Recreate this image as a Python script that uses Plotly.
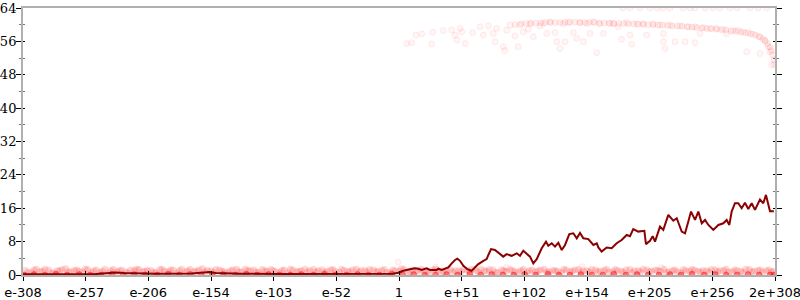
import plotly.graph_objects as go

# ---- tick labels (x axis is magnitude exponent, linear positions) ----
x_tick_vals = [-308, -256.7, -205.3, -154, -102.7, -51.3, 0, 51.3, 102.7, 154, 205.3, 256.7, 308]
x_tick_text = ["e-308", "e-257", "e-206", "e-154", "e-103", "e-52", "1",
               "e+51", "e+102", "e+154", "e+205", "e+256", "2e+308"]
y_tick_vals = [0, 8, 16, 24, 32, 40, 48, 56, 64]

# ---- low scatter band ----
band_x = [-306, -301, -297, -292, -287, -283, -278, -273, -269, -264,
          -259, -255, -250, -245, -241, -236, -231, -227, -222, -217,
          -213, -208, -203, -199, -194, -189, -185, -180, -175, -171,
          -166, -161, -157, -152, -147, -143, -138, -133, -129, -124,
          -119, -115, -110, -105, -101, -96, -91, -87, -82, -77,
          -73, -68, -63, -59, -54, -49, -45, -40, -35, -31,
          -26, -21, -17, -12, -7, -3, 2, 7, 11, 16,
          21, 25, 30, 35, 39, 44, 49, 53, 58, 63,
          67, 72, 77, 81, 86, 91, 95, 100, 105, 109,
          114, 119, 123, 128, 133, 137, 142, 147, 151, 156,
          161, 165, 170, 175, 179, 184, 189, 193, 198, 203,
          207, 212, 217, 221, 226, 231, 235, 240, 245, 249,
          254, 259, 263, 268, 273, 277, 282, 287, 291, 296,
          301, 305]
band_y = [1.1, 0.6, 1.4, 0.9, 1.2, 0.5, 1.0, 1.5, 0.8, 1.2,
          0.7, 1.3, 1.0, 0.6, 1.4, 1.1, 0.8, 1.2, 0.5, 1.0,
          1.3, 0.9, 1.1, 0.6, 1.4, 0.8, 1.2, 1.0, 0.7, 1.3,
          0.9, 1.5, 1.1, 0.6, 1.2, 0.8, 1.0, 1.4, 0.7, 1.1,
          1.2, 0.6, 1.0, 1.3, 0.8, 1.1, 0.5, 1.2, 0.9, 1.4,
          1.0, 0.7, 1.2, 0.9, 1.3, 0.6, 1.1, 0.8, 1.4, 1.0,
          0.7, 1.2, 0.9, 1.3, 0.6, 1.0, 1.5, 0.8, 1.2, 0.9,
          1.1, 0.6, 1.4, 0.9, 1.2, 0.7, 1.0, 1.3, 0.8, 1.1,
          1.4, 0.9, 1.2, 0.6, 1.0, 1.3, 0.8, 1.1, 0.7, 1.2,
          1.0, 1.4, 0.8, 1.1, 0.6, 1.2, 0.9, 1.3, 1.0, 0.7,
          1.2, 0.9, 1.4, 0.8, 1.1, 0.6, 1.3, 1.0, 0.7, 1.2,
          0.9, 1.1, 1.4, 0.8, 1.2, 0.6, 1.0, 1.3, 0.9, 1.1,
          0.7, 1.2, 1.0, 1.4, 0.8, 1.1, 0.6, 1.3, 0.9, 1.2,
          1.0, 0.8]

band2_x = [-304, -299, -294, -290, -285, -280, -276, -271, -266, -262,
           -257, -252, -248, -243, -238, -234, -229, -224, -220, -215,
           -210, -206, -201, -196, -192, -187, -182, -178, -173, -168,
           -164, -159, -154, -150, -145, -140, -136, -131, -126, -122,
           -117, -112, -108, -103, -98, -94, -89, -84, -80, -75,
           -70, -66, -61, -56, -52, -47, -42, -38, -33, -28,
           -24, -19, -14, -10, -5, 0, 4, 9, 14, 18,
           23, 28, 32, 37, 42, 46, 51, 56, 60, 65,
           70, 74, 79, 84, 88, 93, 98, 102, 107, 112,
           116, 121, 126, 130, 135, 140, 144, 149, 154, 158,
           163, 168, 172, 177, 182, 186, 191, 196, 200, 205,
           210, 214, 219, 224, 228, 233, 238, 242, 247, 252,
           256, 261, 266, 270, 275, 280, 284, 289, 294, 298,
           303, 307]
band2_y = [0.6, 1.2, 0.8, 1.4, 0.5, 1.0, 1.3, 0.7, 1.1, 0.9,
           1.4, 0.6, 1.2, 0.9, 0.5, 1.3, 1.0, 0.7, 1.2, 1.4,
           0.8, 1.1, 0.6, 1.3, 0.9, 1.2, 0.5, 1.4, 1.0, 0.8,
           1.2, 0.7, 1.0, 1.3, 0.9, 0.6, 1.2, 0.8, 1.4, 1.0,
           0.7, 1.3, 0.9, 1.1, 0.6, 1.2, 1.4, 0.8, 1.0, 0.7,
           1.3, 1.0, 0.6, 1.2, 0.8, 1.4, 0.9, 1.2, 0.7, 1.1,
           1.3, 0.8, 1.1, 0.6, 1.2, 0.9, 1.3, 0.7, 1.0, 1.4,
           0.8, 1.2, 0.9, 0.6, 1.3, 1.0, 0.8, 1.2, 1.4, 0.7,
           1.0, 1.3, 0.6, 1.2, 0.9, 1.1, 0.7, 1.3, 1.0, 0.8,
           1.2, 0.7, 1.1, 0.9, 1.4, 0.8, 1.2, 0.6, 1.0, 1.3,
           0.8, 1.1, 0.7, 1.3, 0.9, 1.2, 0.6, 1.0, 1.4, 0.8,
           1.2, 0.9, 0.6, 1.1, 0.8, 1.3, 0.9, 1.2, 0.7, 1.0,
           1.3, 0.8, 1.1, 0.7, 1.2, 0.9, 1.4, 0.8, 1.1, 0.7,
           1.2, 0.9]

zero_x = [-307, -299, -290, -281, -272, -262, -253, -244, -235, -226,
          -217, -208, -198, -189, -180, -171, -162, -153, -144, -134,
          -125, -116, -107, -98, -89, -80, -70, -61, -52, -43,
          -34, -25, -16, -6, 3, 12, 21, 30, 39, 48,
          58, 67, 76, 85, 94, 103, 112, 122, 131, 140,
          149, 158, 167, 176, 186, 195, 204, 213, 222, 231,
          240, 250, 259, 268, 277, 286, 295, 304, 307]
zero_y = [0.0, 0.1, 0.0, 0.2, 0.0, 0.1, 0.0, 0.0, 0.2, 0.0,
          0.1, 0.0, 0.0, 0.2, 0.0, 0.1, 0.0, 0.0, 0.1, 0.0,
          0.2, 0.0, 0.1, 0.0, 0.0, 0.1, 0.0, 0.2, 0.0, 0.0,
          0.1, 0.0, 0.0, 0.2, 0.0, 0.1, 0.0, 0.0, 0.1, 0.0,
          0.2, 0.0, 0.1, 0.0, 0.0, 0.1, 0.0, 0.2, 0.0, 0.0,
          0.1, 0.0, 0.0, 0.2, 0.0, 0.1, 0.0, 0.0, 0.1, 0.0,
          0.2, 0.0, 0.1, 0.0, 0.0, 0.1, 0.0, 0.0, 0.0]

outlier_x = [-0.7, 30, 88, 150, 215]
outlier_y = [3.1, 1.9, 1.8, 2.0, 1.8]

# ---- upper scatter cloud ----
upper_x = [6.3, 10.4, 13.9, 18.6, 26.8, 27.6, 36.3, 43.2, 45.9, 47.3,
           50, 51.4, 54.1, 60.4, 66.4, 69.1, 73.2, 77.2, 78.6, 80,
           85.4, 86.8, 88.2, 90.9, 95, 97.7, 99.1, 101.8, 105.9, 107.3,
           110, 115.5, 118.2, 121, 123.7, 127.8, 129.2, 131.9, 134.6, 136,
           138.7, 142.8, 145.6, 148.3, 151, 153.8, 156.5, 159.2, 162, 164.6,
           167.4, 172.8, 175.5, 179.6, 182.4, 186.5, 189.2, 190.6, 194.7, 200.1,
           202.9, 208.3, 213.8, 216.5, 216.5, 217.9, 222, 226.1, 230.2, 234.3,
           237, 242.5, 242.5, 246.6, 249.3, 254.8, 260.2, 265.7, 268.4, 273.8,
           277.9, 282, 284.8, 286.1, 290.2, 295.7, 295.7, 299.8, 302.5, 303.9,
           305.3]
upper_y = [55.5, 55.7, 57.5, 57.8, 55.4, 58.2, 58.6, 58.7, 57.5, 56.3,
           59.1, 58.3, 55.5, 58.1, 59.5, 57.5, 59.7, 57.9, 55.9, 59.1,
           54.7, 53.8, 58.7, 59.9, 57.3, 54.7, 59.9, 58.3, 58.9, 60.3,
           57.1, 59.7, 60.3, 57.9, 60.7, 58.1, 55.9, 54.3, 60.2, 55.9,
           60.5, 58.1, 56.7, 60.5, 55.9, 60.3, 57.9, 60.7, 53.3, 60.2,
           57.9, 60.3, 60.3, 59.5, 56.5, 60.5, 57.5, 55.3, 60.2, 60.2,
           57.5, 60.2, 59.9, 57.9, 55.9, 54.3, 59.9, 55.9, 59.7, 55.9,
           59.5, 59.5, 55.7, 57.9, 59.3, 59.1, 59.1, 58.9, 57.8, 58.6,
           58.6, 58.3, 53.5, 58.1, 57.7, 57.1, 53.1, 56.2, 54.7, 53.5,
           50.3]

dense_x = [95, 100, 104, 108, 112, 116, 120, 124, 128, 132,
           136, 140, 144, 148, 152, 156, 160, 164, 168, 172,
           176, 180, 184, 188, 192, 196, 200, 204, 208, 212,
           216, 220, 224, 228, 232, 236, 240, 244, 248, 252,
           256, 260, 264, 268, 272, 276, 280, 284, 288, 292,
           295, 298, 300, 302, 304, 305, 306, 307, 307.5]
dense_y = [60.0, 60.2, 60.3, 60.3, 60.4, 60.4, 60.5, 60.5, 60.5, 60.5,
           60.6, 60.6, 60.6, 60.5, 60.5, 60.5, 60.5, 60.4, 60.4, 60.4,
           60.3, 60.3, 60.3, 60.2, 60.2, 60.1, 60.1, 60.0, 60.0, 59.9,
           59.9, 59.8, 59.7, 59.7, 59.6, 59.5, 59.4, 59.3, 59.2, 59.1,
           59.0, 58.9, 58.8, 58.7, 58.5, 58.4, 58.2, 58.0, 57.8, 57.5,
           57.1, 56.6, 56.1, 55.4, 54.6, 53.8, 52.8, 51.6, 50.5]

top_x = [183.5, 189.2, 197.4, 205.6, 211.4, 216.3, 222, 232.6, 238.4, 242.5,
         250.7, 257.2, 263, 271.1, 276.9, 287.5, 294.1, 301.4]
top_y = [64, 64, 64, 64, 64, 64, 64, 64, 64, 64,
         64, 64, 64, 64, 64, 64, 64, 64]

# ---- dark line ----
line_x = [-308, -280, -250, -240, -232, -225, -200, -170, -160, -155,
          -150, -130, -100, -50, -20, -5, -0.6, 3.5, 9, 13.1,
          15.8, 18.6, 22.7, 25.4, 30.9, 32.2, 35, 37.7, 40.4, 43.2,
          45.9, 47.8, 50, 52.7, 56, 59.5, 62.3, 65, 69.1, 71.8,
          73.2, 75.4, 78.6, 82.7, 85.4, 88.2, 92.3, 96.4, 99.1, 101.8,
          104.6, 107.3, 110, 112.8, 116.9, 120.4, 122.3, 125.1, 127.8, 130.5,
          133.3, 136, 139.5, 142.8, 145.6, 148.3, 151, 155.1, 159.2, 162,
          163.3, 166, 170.1, 174.2, 178.3, 182.4, 186.5, 189.2, 191.9, 196,
          201, 202.3, 205.6, 207.8, 209.7, 213.8, 216.5, 220.6, 224.7, 227.5,
          231.6, 234.3, 237, 239.2, 242.5, 245.2, 248, 250.7, 253.4, 257.5,
          261.6, 265.7, 268.4, 270.6, 272.5, 275.2, 277.9, 280.7, 283.4, 286.1,
          288.9, 291.6, 295.7, 298.4, 300.6, 303.9, 307.1]
line_y = [0.2, 0.25, 0.2, 0.4, 0.6, 0.45, 0.3, 0.35, 0.55, 0.7,
          0.5, 0.3, 0.25, 0.3, 0.35, 0.3, 0.55, 1.0, 1.4, 1.6,
          1.5, 1.2, 1.6, 1.2, 1.2, 1.5, 1.2, 1.6, 1.8, 2.8,
          3.6, 3.9, 3.4, 2.2, 1.4, 1.0, 1.8, 2.6, 3.4, 3.8,
          4.8, 6.2, 6.0, 5.0, 4.4, 5.0, 4.6, 5.2, 4.6, 5.8,
          5.0, 4.4, 2.8, 3.8, 6.4, 8.0, 7.0, 7.6, 6.8, 7.7,
          6.0, 7.2, 9.8, 10.0, 8.8, 10.1, 8.8, 8.6, 7.2, 7.6,
          6.6, 5.6, 6.6, 6.4, 7.6, 8.4, 9.6, 9.3, 11.0, 10.4,
          10.6, 7.4, 8.2, 9.3, 8.0, 11.6, 10.8, 14.4, 13.0, 13.6,
          10.4, 10.0, 12.8, 15.2, 13.2, 15.2, 12.4, 13.2, 12.0, 10.8,
          12.0, 12.4, 13.2, 12.0, 15.2, 17.2, 17.2, 16.0, 17.3, 15.8,
          17.2, 15.6, 18.1, 17.2, 19.2, 15.3, 15.3]

fig = go.Figure()

faint = dict(symbol="circle", size=6, color="rgba(255,0,0,0.04)",
             line=dict(color="rgba(255,0,0,0.07)", width=1))
dense = dict(symbol="circle", size=6, color="rgba(255,0,0,0.06)",
             line=dict(color="rgba(255,0,0,0.08)", width=1))
band = dict(symbol="circle", size=7, color="rgba(255,0,0,0.16)",
            line=dict(color="rgba(255,0,0,0.0)", width=0))
zero = dict(symbol="circle", size=6, color="rgba(255,0,0,0.5)",
            line=dict(color="rgba(255,0,0,0.3)", width=1))

fig.add_trace(go.Scatter(x=upper_x, y=upper_y, mode="markers", marker=faint, hoverinfo="skip"))
fig.add_trace(go.Scatter(x=dense_x, y=dense_y, mode="markers", marker=dense, hoverinfo="skip"))
fig.add_trace(go.Scatter(x=top_x, y=top_y, mode="markers", marker=faint, hoverinfo="skip"))
fig.add_trace(go.Scatter(x=band_x, y=band_y, mode="markers", marker=band, hoverinfo="skip"))
fig.add_trace(go.Scatter(x=band2_x, y=band2_y, mode="markers", marker=band, hoverinfo="skip"))
fig.add_trace(go.Scatter(x=outlier_x, y=outlier_y, mode="markers", marker=faint, hoverinfo="skip"))
fig.add_trace(go.Scatter(x=zero_x, y=zero_y, mode="markers", marker=zero, hoverinfo="skip"))
fig.add_trace(go.Scatter(x=line_x, y=line_y, mode="lines",
                         line=dict(color="#8b0000", width=2), hoverinfo="skip"))
# helper trace so the overlay tick axes are drawn
fig.add_trace(go.Scatter(x=[None], y=[None], xaxis="x2", yaxis="y2", mode="markers",
                         hoverinfo="skip"))

xr = [-308, 308]
yr = [0, 64]

fig.update_layout(
    width=800, height=300,
    margin=dict(l=23, r=25, t=8, b=25, autoexpand=False),
    paper_bgcolor="white", plot_bgcolor="white",
    showlegend=False,
    xaxis=dict(range=xr, tickmode="array", tickvals=x_tick_vals, ticktext=x_tick_text,
               ticks="outside", ticklen=4, tickwidth=1, tickcolor="black",
               showline=True, linecolor="#b0b0b0", linewidth=2, mirror=True,
               showgrid=False, zeroline=False, automargin=False,
               ticklabeloverflow="allow",
               tickfont=dict(family="DejaVu Sans", size=13, color="black")),
    xaxis2=dict(range=xr, overlaying="x", anchor="y", side="bottom",
                tickmode="array", tickvals=x_tick_vals, automargin=False,
                ticks="inside", ticklen=4, tickwidth=1, tickcolor="black",
                showticklabels=False, showline=False, showgrid=False, zeroline=False),
    yaxis=dict(range=yr, tickmode="array", tickvals=y_tick_vals,
               ticks="outside", ticklen=5, tickwidth=1, tickcolor="black",
               minor=dict(ticks="outside", ticklen=2, dtick=4, tick0=0,
                          tickcolor="#777777", showgrid=False),
               showline=True, linecolor="#b0b0b0", linewidth=2, mirror="ticks",
               showgrid=False, zeroline=False, automargin=False,
               ticklabeloverflow="allow", ticklabelstandoff=-3,
               tickfont=dict(family="DejaVu Serif", size=13, color="black")),
    yaxis2=dict(range=yr, overlaying="y", anchor="x", side="left",
                tickmode="array", tickvals=y_tick_vals, automargin=False,
                ticks="inside", ticklen=2, tickwidth=1, tickcolor="black",
                minor=dict(ticks="inside", ticklen=2, dtick=4, tick0=0,
                           tickcolor="#777777", showgrid=False),
                mirror="ticks", showticklabels=False, showline=False,
                showgrid=False, zeroline=False),
)

fig.write_html("out.html")
